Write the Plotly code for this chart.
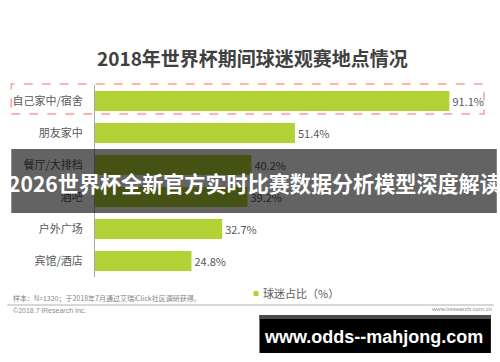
import plotly.graph_objects as go

# ---- data ----
categories = ["自己家中/宿舍", "朋友家中", "餐厅/大排档", "酒吧", "户外广场", "宾馆/酒店"]
values = [91.1, 51.4, 40.2, 39.2, 32.7, 24.8]
value_labels = [f"{v:.1f}%" for v in values]
series_name = "球迷占比（%）"
title_text = "2018年世界杯期间球迷观赛地点情况"
banner_text = "2026世界杯全新官方实时比赛数据分析模型深度解读"
footnote_text = "样本：N=1320；于2018年7月通过艾瑞iClick社区调研获得。"
copyright_text = "©2018.7 iResearch Inc."
site_text = "www.iresearch.com.cn"
watermark_text = "www.odds--mahjong.com"

W, H = 500, 362
L, R, T, B = 89, 16, 85, 85
PW, PH = W - L - R, H - T - B


def px(x):
    return (x - L) / PW


def py(y):
    return (H - B - y) / PH


CJK = "Noto Sans CJK SC"
GREEN = "#B2D235"
TXT = "#595959"

fig = go.Figure(
    go.Bar(
        x=values,
        y=categories,
        orientation="h",
        marker=dict(color=GREEN, line=dict(width=0)),
        text=value_labels,
        textposition="outside",
        textfont=dict(family=CJK, size=11, color=TXT),
        cliponaxis=False,
        name=series_name,
        showlegend=False,
    )
)

fig.update_layout(
    width=W,
    height=H,
    margin=dict(l=L, r=R, t=T, b=B, pad=0),
    paper_bgcolor="white",
    plot_bgcolor="white",
    bargap=0.375,
    font=dict(family=CJK, color=TXT),
    xaxis=dict(range=[0, 100], visible=False, fixedrange=True),
    yaxis=dict(
        autorange="reversed",
        showline=True,
        linecolor="#A6A6A6",
        linewidth=1,
        showgrid=False,
        ticks="",
        ticklabelstandoff=9,
        tickfont=dict(family=CJK, size=11, color=TXT),
    ),
)

shapes = [
    # dashed highlight around first row
    dict(type="rect", xref="paper", yref="paper",
         x0=px(4), x1=px(484), y0=py(114), y1=py(84),
         line=dict(color="#FF9C9C", width=1.5, dash="dash"), layer="above"),
    # legend swatch
    dict(type="rect", xref="paper", yref="paper",
         x0=px(250), x1=px(255), y0=py(296), y1=py(291),
         fillcolor=GREEN, line=dict(width=0)),
    # footer rule
    dict(type="line", xref="paper", yref="paper",
         x0=px(0), x1=px(494), y0=py(305), y1=py(305),
         line=dict(color="#B0B0B0", width=1)),
    # dark banner overlay
    dict(type="rect", xref="paper", yref="paper",
         x0=px(4), x1=px(497), y0=py(213), y1=py(149),
         fillcolor="rgba(0,0,0,0.61)", line=dict(width=0), layer="above"),
    # watermark box
    dict(type="rect", xref="paper", yref="paper",
         x0=px(256), x1=px(491), y0=py(353), y1=py(315),
         fillcolor="#000000", line=dict(width=0), layer="above"),
    dict(type="rect", xref="paper", yref="paper",
         x0=px(256), x1=px(491), y0=py(319), y1=py(315),
         fillcolor="#4A4A4A", line=dict(width=0), layer="above"),
]

annotations = [
    dict(text=f"<b>{title_text}</b>", x=px(249), y=py(57), xanchor="center", yanchor="middle",
         font=dict(family=CJK, size=19, color="#404040")),
    dict(text=series_name, x=px(258), y=py(293), xanchor="left", yanchor="middle",
         font=dict(family=CJK, size=11, color=TXT)),
    dict(text=footnote_text, x=px(4), y=py(298), xanchor="left", yanchor="middle",
         font=dict(family=CJK, size=7, color="#7F7F7F")),
    dict(text=copyright_text, x=px(4), y=py(310), xanchor="left", yanchor="middle",
         font=dict(family="Liberation Sans", size=7, color="#8C8C8C")),
    dict(text=site_text, x=px(494), y=py(309), xanchor="right", yanchor="middle",
         font=dict(family="Liberation Sans", size=6, color="#8C8C8C")),
    dict(text=f"<b>{banner_text}</b>", x=px(250.5), y=py(183), xanchor="center", yanchor="middle",
         font=dict(family=CJK, size=21.1, color="white")),
    dict(text=f"<b>{watermark_text}</b>", x=px(372), y=py(337), xanchor="center", yanchor="middle",
         font=dict(family="Liberation Sans", size=18, color="white")),
]
for a in annotations:
    a.update(xref="paper", yref="paper", showarrow=False)

fig.update_layout(shapes=shapes, annotations=annotations)
fig.write_html("out.html", config={"displayModeBar": False},
               post_script="document.body.style.margin='0';")
